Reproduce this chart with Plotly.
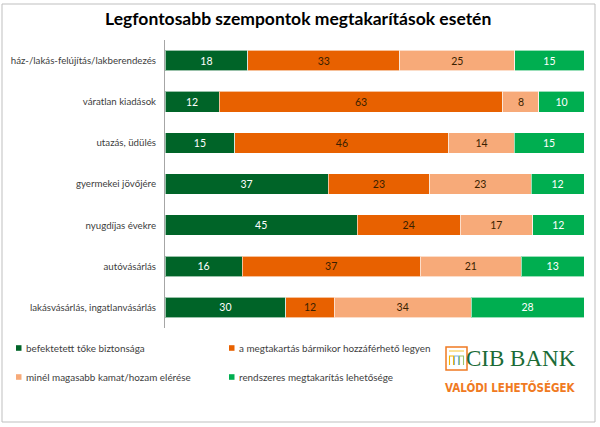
import plotly.graph_objects as go

categories = [
    "ház-/lakás-felújítás/lakberendezés",
    "váratlan kiadások",
    "utazás, üdülés",
    "gyermekei jövőjére",
    "nyugdíjas évekre",
    "autóvásárlás",
    "lakásvásárlás, ingatlanvásárlás",
]
series_names = [
    "befektetett tőke biztonsága",
    "a megtakartás bármikor hozzáférhető legyen",
    "minél magasabb kamat/hozam elérése",
    "rendszeres megtakarítás lehetősége",
]
safety = [18, 12, 15, 37, 45, 16, 30]
access = [33, 63, 46, 23, 24, 37, 12]
interest = [25, 8, 14, 23, 17, 21, 34]
regular = [15, 10, 15, 12, 12, 13, 28]

values = [safety, access, interest, regular]
colors = ["#006428", "#E86100", "#F7AA79", "#00AE50"]
text_colors = ["white", "#3A1F00", "#3A1F00", "white"]

W, H = 600, 427
L, R, T, B = 165, 16, 40, 99
PW, PH = W - L - R, H - T - B


def px_x(x):
    return (x - L) / PW


def px_y(y):
    return (H - B - y) / PH


fig = go.Figure()
for name, vals, color, tc in zip(series_names, values, colors, text_colors):
    fig.add_trace(go.Bar(
        y=categories, x=vals, name=name, orientation="h",
        marker=dict(color=color, line=dict(color="rgba(255,255,255,0.6)", width=1)),
        text=vals, texttemplate="%{text}", textposition="inside",
        insidetextanchor="middle",
        textfont=dict(color=tc, size=10.5, family="Lato"),
        hoverinfo="skip",
    ))

fig.update_layout(
    width=W, height=H,
    margin=dict(l=L, r=R, t=T, b=B, autoexpand=False),
    barmode="stack", barnorm="percent", bargap=0.5,
    paper_bgcolor="white", plot_bgcolor="white",
    showlegend=False,
    font=dict(family="Lato", color="#404040"),
    title=dict(text="<b>Legfontosabb szempontok megtakarítások esetén</b>",
               x=0.497, xanchor="center", y=1 - 19 / H, yanchor="middle",
               font=dict(size=17.5, color="black", family="Lato")),
    xaxis=dict(range=[0, 100], showticklabels=False, showgrid=False,
               zeroline=False, showline=False, fixedrange=True),
    yaxis=dict(autorange="reversed", showline=True, linecolor="#A6A6A6",
               linewidth=1, ticks="", ticklabelstandoff=6, automargin=False,
               tickfont=dict(size=9.7, color="#404040", family="Lato")),
)

# legend drawn below the plot, two columns
legend_cols = [16, 229]
legend_rows = [348, 377]
for i, (name, color) in enumerate(zip(series_names, colors)):
    cx = legend_cols[i % 2]
    cy = legend_rows[i // 2]
    fig.add_shape(type="rect", xref="paper", yref="paper",
                  x0=px_x(cx), x1=px_x(cx + 5.5), y0=px_y(cy + 2.8), y1=px_y(cy - 2.8),
                  fillcolor=color, line=dict(width=0))
    fig.add_annotation(text=name, xref="paper", yref="paper",
                       x=px_x(cx + 8), y=px_y(cy), xanchor="left", yanchor="middle",
                       showarrow=False,
                       font=dict(family="Lato", size=9.9, color="#404040"))

# chart frame
fig.add_shape(type="rect", xref="paper", yref="paper",
              x0=px_x(2), x1=px_x(595), y0=px_y(422), y1=px_y(4),
              line=dict(color="#BFBFBF", width=1), layer="above")

# CIB logo
fig.add_shape(type="rect", xref="paper", yref="paper",
              x0=px_x(446), x1=px_x(467), y0=px_y(370), y1=px_y(347),
              line=dict(color="#F07A22", width=1.5))
fig.add_shape(type="line", xref="paper", yref="paper",
              x0=px_x(449), x1=px_x(464), y0=px_y(351), y1=px_y(351),
              line=dict(color="#F4C430", width=1))
for i, c in enumerate(["#F4B400", "#7FB3E0", "#9DC36B"]):
    fig.add_shape(type="path", xref="paper", yref="paper",
                  path="M {0},{1} L {0},{2} L {3},{2} L {3},{1}".format(
                      px_x(449.5 + i * 5), px_y(365), px_y(356), px_x(453.5 + i * 5)),
                  line=dict(color=c, width=1.1))
fig.add_annotation(text="CIB BANK", xref="paper", yref="paper",
                   x=px_x(578), y=px_y(358), xanchor="right", yanchor="middle",
                   showarrow=False,
                   font=dict(family="Liberation Serif", size=23, color="#1B6B36"))
fig.add_annotation(text="<b>VALÓDI LEHETŐSÉGEK</b>", xref="paper", yref="paper",
                   x=px_x(578), y=px_y(387), xanchor="right", yanchor="middle",
                   showarrow=False,
                   font=dict(family="Liberation Sans Narrow, DejaVu Sans Condensed",
                             size=11.5, color="#F07A22"))

# the page body has a default margin; drop it so the figure sits at 0,0
fig.write_html("out.html", config={"displayModeBar": False},
               post_script="document.body.style.margin='0';")
